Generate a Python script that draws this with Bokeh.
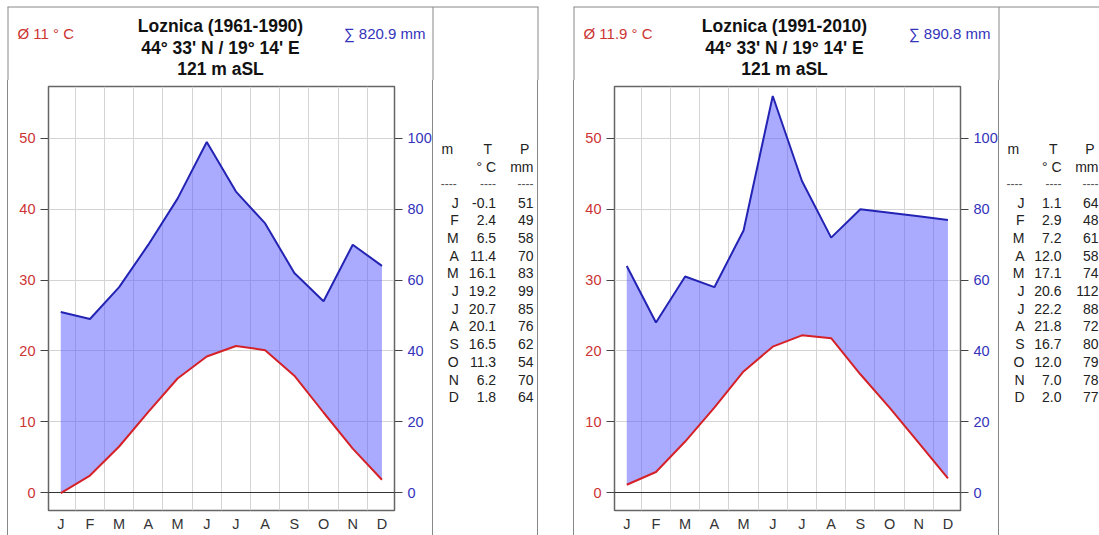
from bokeh.plotting import figure
from bokeh.models import Range1d, LinearAxis, FixedTicker, Span, ColumnDataSource, Spacer
from bokeh.layouts import row, column
from bokeh.embed import file_html
from bokeh.resources import INLINE
from bokeh.core.properties import value

# ---------------- data ----------------
months = ["J", "F", "M", "A", "M", "J", "J", "A", "S", "O", "N", "D"]
station = "Loznica"
coords = "44° 33' N / 19° 14' E"
elevation = "121 m aSL"

period_a = "1961-1990"
temp_a = [-0.1, 2.4, 6.5, 11.4, 16.1, 19.2, 20.7, 20.1, 16.5, 11.3, 6.2, 1.8]
prec_a = [51, 49, 58, 70, 83, 99, 85, 76, 62, 54, 70, 64]
mean_temp_a = "11"
sum_prec_a = "820.9"

period_b = "1991-2010"
temp_b = [1.1, 2.9, 7.2, 12.0, 17.1, 20.6, 22.2, 21.8, 16.7, 12.0, 7.0, 2.0]
prec_b = [64, 48, 61, 58, 74, 112, 88, 72, 80, 79, 78, 77]
mean_temp_b = "11.9"
sum_prec_b = "890.8"

temp_ticks = [0, 10, 20, 30, 40, 50]
prec_ticks = [0, 20, 40, 60, 80, 100]
table_head = ["m", "T", "P"]
table_units = ["", "° C", "mm"]
table_rule = "----"

# ---------------- style / layout ----------------
FONT = "Liberation Sans"
RED = "#cc3333"
BLUE = "#3333bb"
TLINE = "#d42228"
PLINE = "#2424b4"
PANEL = "#888888"
BORDER = "1px solid " + PANEL
W = 1099
HEAD_H = 80
BODY_H = 455
ROW_PX = 17.7          # table row height in px
ROW0_PX = 116          # first table row below frame top


def make_chart(temps, precs):
    x = list(range(len(months)))
    p = figure(width=426, height=BODY_H,
               x_range=Range1d(-0.42, 11.43), y_range=Range1d(-2.54, 57.34),
               min_border_left=40, min_border_right=40,
               min_border_top=6, min_border_bottom=25,
               output_backend="svg", toolbar_location=None)
    p.extra_y_ranges = {"prec": Range1d(-5.08, 114.68)}
    p.styles = {"border-left": BORDER, "border-right": BORDER}
    p.outline_line_color = "#666666"
    p.outline_line_width = 1.5

    p.varea(x=x, y1=temps, y2=[v / 2 for v in precs],
            fill_color="#5555ff", fill_alpha=0.5)
    p.line(x, precs, y_range_name="prec", line_color=PLINE, line_width=2)
    p.line(x, temps, line_color=TLINE, line_width=2)

    p.add_layout(Span(location=0, dimension="width", line_color="#333333",
                      line_width=1, level="underlay"))

    p.xgrid.ticker = FixedTicker(ticks=[i + 0.5 for i in range(len(months) - 1)])
    p.ygrid.ticker = FixedTicker(ticks=temp_ticks[1:])
    for g in (p.xgrid[0], p.ygrid[0]):
        g.grid_line_color = "#d4d4d4"
        g.grid_line_width = 1

    xa = p.xaxis[0]
    xa.ticker = FixedTicker(ticks=x)
    xa.major_label_overrides = {i: m for i, m in enumerate(months)}
    xa.axis_line_color = None
    xa.major_tick_out = 0
    xa.major_tick_in = 0
    xa.minor_tick_out = 0
    xa.major_label_standoff = 5
    xa.major_label_text_font = FONT
    xa.major_label_text_font_size = "14.5px"
    xa.major_label_text_color = "#333333"

    ya = p.yaxis[0]
    ya.ticker = FixedTicker(ticks=temp_ticks)
    ya.axis_line_color = None
    ya.major_tick_out = 8
    ya.major_tick_in = 0
    ya.minor_tick_out = 0
    ya.major_tick_line_color = "#444444"
    ya.major_label_standoff = 5
    ya.major_label_text_font = FONT
    ya.major_label_text_font_size = "14.5px"
    ya.major_label_text_color = RED

    ra = LinearAxis(y_range_name="prec", ticker=FixedTicker(ticks=prec_ticks))
    ra.axis_line_color = None
    ra.major_tick_out = 8
    ra.major_tick_in = 0
    ra.minor_tick_out = 0
    ra.major_tick_line_color = "#444444"
    ra.major_label_standoff = 5
    ra.major_label_text_font = FONT
    ra.major_label_text_font_size = "14.5px"
    ra.major_label_text_color = BLUE
    p.add_layout(ra, "right")
    return p


def make_table(temps, precs, width, right_border):
    t = figure(width=width, height=BODY_H,
               x_range=Range1d(0, width - (1 if right_border else 0)),
               y_range=Range1d((424 - ROW0_PX) / ROW_PX, -ROW0_PX / ROW_PX),
               min_border_left=0, min_border_right=0,
               min_border_top=6, min_border_bottom=25,
               x_axis_location=None, y_axis_location=None,
               output_backend="svg", toolbar_location=None)
    t.grid.visible = False
    t.outline_line_color = None
    if right_border:
        t.styles = {"border-right": BORDER}

    common = dict(text_baseline="middle", text_font=value(FONT),
                  text_font_size="14px", text_color="#222222")
    src = ColumnDataSource(dict(
        y=list(range(len(months))),
        m=months,
        t=[f"{v:.1f}" for v in temps],
        p=[str(v) for v in precs],
    ))
    t.text(x=25, y="y", text="m", text_align="right", source=src, **common)
    t.text(x=62, y="y", text="t", text_align="right", source=src, **common)
    t.text(x=99, y="y", text="p", text_align="right", source=src, **common)

    t.text(x=[8], y=[-3.05], text=[table_head[0]], text_align="left", **common)
    t.text(x=[58, 95], y=[-3.05, -3.05], text=table_head[1:], text_align="right", **common)
    t.text(x=[62, 99], y=[-2.03, -2.03], text=table_units[1:], text_align="right", **common)
    t.text(x=[23, 62, 99], y=[-1.07] * 3, text=[table_rule] * 3, text_align="right",
           text_baseline="middle", text_font=value(FONT), text_font_size="12px",
           text_color="#555555")
    return t


def make_header():
    h = figure(width=W, height=HEAD_H, x_range=Range1d(0, W), y_range=Range1d(HEAD_H, 0),
               min_border=0, x_axis_location=None, y_axis_location=None,
               output_backend="svg", toolbar_location=None)
    h.grid.visible = False
    h.outline_line_color = None
    # panel frames (top part)
    h.segment(x0=[7.5, 432.5, 537.5, 573.5, 998.5], y0=[6.5] * 5,
              x1=[7.5, 432.5, 537.5, 573.5, 998.5], y1=[HEAD_H] * 5,
              line_color=PANEL, line_width=1)
    h.segment(x0=[7, 573], y0=[6.5, 6.5], x1=[538, W], y1=[6.5, 6.5],
              line_color=PANEL, line_width=1)

    titles = [f"{station} ({period_a})", coords, elevation,
              f"{station} ({period_b})", coords, elevation]
    h.text(x=[220, 220, 220, 784, 784, 784], y=[25, 47, 68, 25, 47, 68], text=titles,
           text_align="center", text_baseline="middle", text_font=value(FONT),
           text_font_size="17.5px", text_font_style="bold", text_color="#111111")
    h.text(x=[17, 583], y=[33, 33], text=[f"Ø {mean_temp_a} ° C", f"Ø {mean_temp_b} ° C"],
           text_align="left", text_baseline="middle", text_font=value(FONT),
           text_font_size="15px", text_color=RED)
    h.text(x=[425, 990], y=[33, 33], text=[f"∑ {sum_prec_a} mm", f"∑ {sum_prec_b} mm"],
           text_align="right", text_baseline="middle", text_font=value(FONT),
           text_font_size="15px", text_color=BLUE)
    return h


header = make_header()
chart_a = make_chart(temp_a, prec_a)
table_a = make_table(temp_a, prec_a, 105, True)
chart_b = make_chart(temp_b, prec_b)
table_b = make_table(temp_b, prec_b, 100, False)

body = row(Spacer(width=7, height=BODY_H), chart_a, table_a,
           Spacer(width=35, height=BODY_H), chart_b, table_b)
layout = column(header, body)

with open("out.html", "w") as f:
    f.write(file_html(layout, INLINE))
